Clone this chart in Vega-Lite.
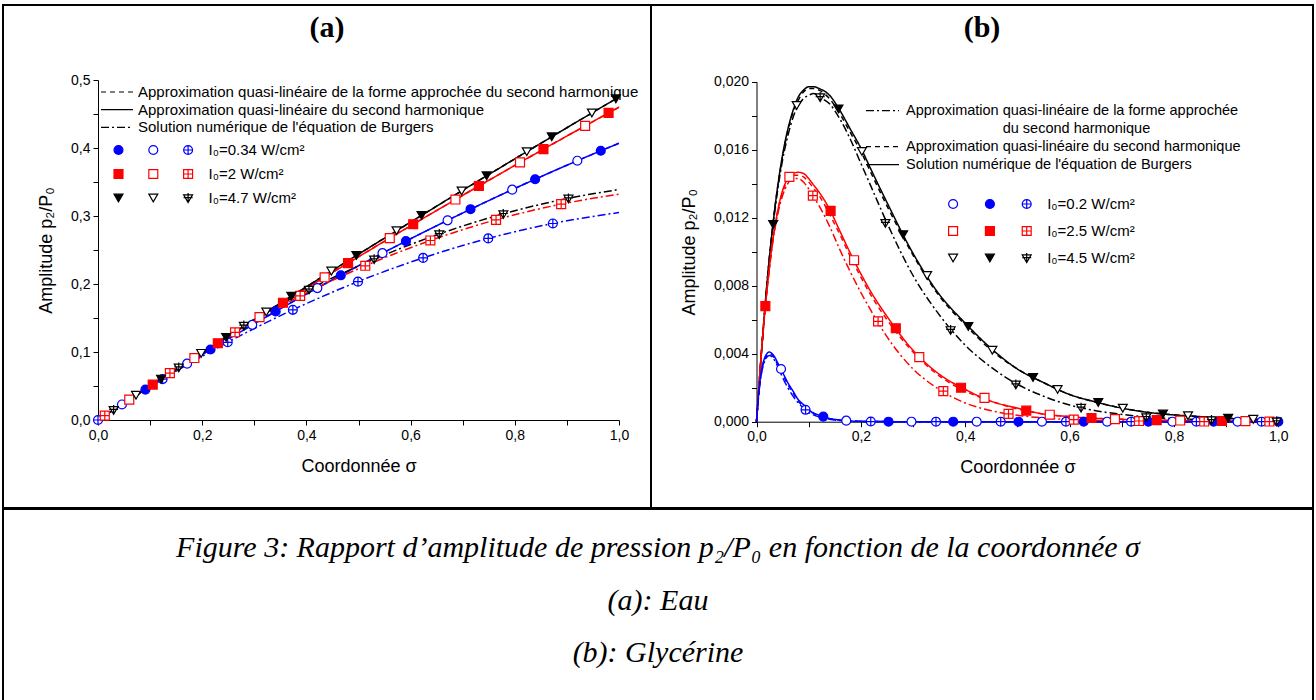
{
"$schema":"https://vega.github.io/schema/vega-lite/v6.json",
"padding":{"left":2,"top":4,"right":2,"bottom":0},
"spacing":-2,
"bounds":"full",
"config":{
 "background":"white",
 "view":{"stroke":"#000","strokeWidth":2},
 "axis":{"domainColor":"#000","domainWidth":1,"tickColor":"#000","tickWidth":1,"tickSize":5,"labelColor":"#000","titleColor":"#000","labelFont":"Liberation Sans","titleFont":"Liberation Sans","labelFontSize":14,"titleFontSize":18,"titleFontWeight":"normal","labelPadding":3,"titlePadding":15,"grid":false,"labelOverlap":false,"labelFlush":false,"labelBound":false},
 "legend":{"labelFont":"Liberation Sans","labelColor":"#000","padding":0,"titlePadding":0,"labelLimit":1000},
 "title":{"color":"#000"}
},
"datasets":{
"aLines":[
{"I":"B","s":"solid","x":0,"y":0},{"I":"B","s":"solid","x":0.1,"y":0.0491},{"I":"B","s":"solid","x":0.2,"y":0.0963},{"I":"B","s":"solid","x":0.3,"y":0.1416},{"I":"B","s":"solid","x":0.4,"y":0.1851},{"I":"B","s":"solid","x":0.5,"y":0.2268},{"I":"B","s":"solid","x":0.6,"y":0.2665},{"I":"B","s":"solid","x":0.7,"y":0.3044},{"I":"B","s":"solid","x":0.8,"y":0.3405},{"I":"B","s":"solid","x":0.9,"y":0.3747},{"I":"B","s":"solid","x":1,"y":0.407},
{"I":"B","s":"dash","x":0,"y":0},{"I":"B","s":"dash","x":0.1,"y":0.0491},{"I":"B","s":"dash","x":0.2,"y":0.0963},{"I":"B","s":"dash","x":0.3,"y":0.1416},{"I":"B","s":"dash","x":0.4,"y":0.1851},{"I":"B","s":"dash","x":0.5,"y":0.2268},{"I":"B","s":"dash","x":0.6,"y":0.2665},{"I":"B","s":"dash","x":0.7,"y":0.3044},{"I":"B","s":"dash","x":0.8,"y":0.3405},{"I":"B","s":"dash","x":0.9,"y":0.3747},{"I":"B","s":"dash","x":1,"y":0.407},
{"I":"B","s":"dd","x":0,"y":0},{"I":"B","s":"dd","x":0.1,"y":0.049},{"I":"B","s":"dd","x":0.2,"y":0.0938},{"I":"B","s":"dd","x":0.3,"y":0.1346},{"I":"B","s":"dd","x":0.4,"y":0.1712},{"I":"B","s":"dd","x":0.5,"y":0.2038},{"I":"B","s":"dd","x":0.6,"y":0.2322},{"I":"B","s":"dd","x":0.7,"y":0.2566},{"I":"B","s":"dd","x":0.8,"y":0.2768},{"I":"B","s":"dd","x":0.9,"y":0.293},{"I":"B","s":"dd","x":1,"y":0.305},
{"I":"R","s":"solid","x":0,"y":0},{"I":"R","s":"solid","x":0.1,"y":0.0496},{"I":"R","s":"solid","x":0.2,"y":0.0984},{"I":"R","s":"solid","x":0.3,"y":0.1464},{"I":"R","s":"solid","x":0.4,"y":0.1936},{"I":"R","s":"solid","x":0.5,"y":0.24},{"I":"R","s":"solid","x":0.6,"y":0.2856},{"I":"R","s":"solid","x":0.7,"y":0.3304},{"I":"R","s":"solid","x":0.8,"y":0.3744},{"I":"R","s":"solid","x":0.9,"y":0.4176},{"I":"R","s":"solid","x":1,"y":0.46},
{"I":"R","s":"dash","x":0,"y":0},{"I":"R","s":"dash","x":0.1,"y":0.0496},{"I":"R","s":"dash","x":0.2,"y":0.0984},{"I":"R","s":"dash","x":0.3,"y":0.1464},{"I":"R","s":"dash","x":0.4,"y":0.1936},{"I":"R","s":"dash","x":0.5,"y":0.24},{"I":"R","s":"dash","x":0.6,"y":0.2856},{"I":"R","s":"dash","x":0.7,"y":0.3304},{"I":"R","s":"dash","x":0.8,"y":0.3744},{"I":"R","s":"dash","x":0.9,"y":0.4176},{"I":"R","s":"dash","x":1,"y":0.46},
{"I":"R","s":"dd","x":0,"y":0},{"I":"R","s":"dd","x":0.1,"y":0.0503},{"I":"R","s":"dd","x":0.2,"y":0.0995},{"I":"R","s":"dd","x":0.3,"y":0.146},{"I":"R","s":"dd","x":0.4,"y":0.187},{"I":"R","s":"dd","x":0.5,"y":0.2225},{"I":"R","s":"dd","x":0.6,"y":0.2534},{"I":"R","s":"dd","x":0.7,"y":0.2799},{"I":"R","s":"dd","x":0.8,"y":0.3018},{"I":"R","s":"dd","x":0.9,"y":0.3191},{"I":"R","s":"dd","x":1,"y":0.332},
{"I":"K","s":"solid","x":0,"y":0},{"I":"K","s":"solid","x":0.1,"y":0.0498},{"I":"K","s":"solid","x":0.2,"y":0.099},{"I":"K","s":"solid","x":0.3,"y":0.1478},{"I":"K","s":"solid","x":0.4,"y":0.196},{"I":"K","s":"solid","x":0.5,"y":0.2438},{"I":"K","s":"solid","x":0.6,"y":0.291},{"I":"K","s":"solid","x":0.7,"y":0.3378},{"I":"K","s":"solid","x":0.8,"y":0.384},{"I":"K","s":"solid","x":0.9,"y":0.4298},{"I":"K","s":"solid","x":1,"y":0.475},
{"I":"K","s":"dash","x":0,"y":0},{"I":"K","s":"dash","x":0.1,"y":0.0498},{"I":"K","s":"dash","x":0.2,"y":0.099},{"I":"K","s":"dash","x":0.3,"y":0.1478},{"I":"K","s":"dash","x":0.4,"y":0.196},{"I":"K","s":"dash","x":0.5,"y":0.2438},{"I":"K","s":"dash","x":0.6,"y":0.291},{"I":"K","s":"dash","x":0.7,"y":0.3378},{"I":"K","s":"dash","x":0.8,"y":0.384},{"I":"K","s":"dash","x":0.9,"y":0.4298},{"I":"K","s":"dash","x":1,"y":0.475},
{"I":"K","s":"dd","x":0,"y":0},{"I":"K","s":"dd","x":0.1,"y":0.0505},{"I":"K","s":"dd","x":0.2,"y":0.1},{"I":"K","s":"dd","x":0.3,"y":0.148},{"I":"K","s":"dd","x":0.4,"y":0.1903},{"I":"K","s":"dd","x":0.5,"y":0.2265},{"I":"K","s":"dd","x":0.6,"y":0.2581},{"I":"K","s":"dd","x":0.7,"y":0.2852},{"I":"K","s":"dd","x":0.8,"y":0.3077},{"I":"K","s":"dd","x":0.9,"y":0.3256},{"I":"K","s":"dd","x":1,"y":0.339}
],
"aPts":[
{"m":"Bf","x":0.091,"y":0.0447},{"m":"Bf","x":0.216,"y":0.1037},{"m":"Bf","x":0.341,"y":0.1597},{"m":"Bf","x":0.466,"y":0.2128},{"m":"Bf","x":0.591,"y":0.263},{"m":"Bf","x":0.715,"y":0.31},{"m":"Bf","x":0.839,"y":0.354},{"m":"Bf","x":0.965,"y":0.3959},
{"m":"Bo","x":0.046,"y":0.0228},{"m":"Bo","x":0.171,"y":0.0828},{"m":"Bo","x":0.296,"y":0.1399},{"m":"Bo","x":0.421,"y":0.194},{"m":"Bo","x":0.546,"y":0.2453},{"m":"Bo","x":0.671,"y":0.2936},{"m":"Bo","x":0.795,"y":0.3387},{"m":"Bo","x":0.92,"y":0.3813},
{"m":"Bx","x":0,"y":0},{"m":"Bx","x":0.124,"y":0.0601},{"m":"Bx","x":0.249,"y":0.1143},{"m":"Bx","x":0.374,"y":0.162},{"m":"Bx","x":0.499,"y":0.2034},{"m":"Bx","x":0.624,"y":0.2384},{"m":"Bx","x":0.749,"y":0.267},{"m":"Bx","x":0.873,"y":0.289},
{"m":"Rf","x":0.105,"y":0.0521},{"m":"Rf","x":0.23,"y":0.1129},{"m":"Rf","x":0.355,"y":0.1725},{"m":"Rf","x":0.48,"y":0.2308},{"m":"Rf","x":0.605,"y":0.2879},{"m":"Rf","x":0.731,"y":0.3441},{"m":"Rf","x":0.855,"y":0.3983},{"m":"Rf","x":0.98,"y":0.4516},
{"m":"Ro","x":0.06,"y":0.0299},{"m":"Ro","x":0.185,"y":0.0911},{"m":"Ro","x":0.31,"y":0.1512},{"m":"Ro","x":0.435,"y":0.2099},{"m":"Ro","x":0.56,"y":0.2675},{"m":"Ro","x":0.686,"y":0.3242},{"m":"Ro","x":0.81,"y":0.3788},{"m":"Ro","x":0.935,"y":0.4325},
{"m":"Rx","x":0.013,"y":0.0065},{"m":"Rx","x":0.138,"y":0.069},{"m":"Rx","x":0.263,"y":0.129},{"m":"Rx","x":0.388,"y":0.1825},{"m":"Rx","x":0.513,"y":0.2268},{"m":"Rx","x":0.638,"y":0.264},{"m":"Rx","x":0.764,"y":0.2944},{"m":"Rx","x":0.889,"y":0.3175},
{"m":"Kf","x":0.121,"y":0.0601},{"m":"Kf","x":0.246,"y":0.1215},{"m":"Kf","x":0.371,"y":0.1821},{"m":"Kf","x":0.496,"y":0.2419},{"m":"Kf","x":0.621,"y":0.3009},{"m":"Kf","x":0.746,"y":0.3591},{"m":"Kf","x":0.871,"y":0.4165},{"m":"Kf","x":0.994,"y":0.4723},
{"m":"Ko","x":0.073,"y":0.0364},{"m":"Ko","x":0.198,"y":0.098},{"m":"Ko","x":0.323,"y":0.1589},{"m":"Ko","x":0.448,"y":0.219},{"m":"Ko","x":0.573,"y":0.2783},{"m":"Ko","x":0.698,"y":0.3368},{"m":"Ko","x":0.823,"y":0.3946},{"m":"Ko","x":0.948,"y":0.4515},
{"m":"Kx","x":0.03,"y":0.015},{"m":"Kx","x":0.155,"y":0.0775},{"m":"Kx","x":0.28,"y":0.139},{"m":"Kx","x":0.405,"y":0.192},{"m":"Kx","x":0.53,"y":0.2365},{"m":"Kx","x":0.655,"y":0.2735},{"m":"Kx","x":0.778,"y":0.303},{"m":"Kx","x":0.903,"y":0.326}
],
"bLines":[
{"I":"K","s":"solid","x":0,"y":0},{"I":"K","s":"solid","x":0.01,"y":0.0043},{"I":"K","s":"solid","x":0.02,"y":0.0081},{"I":"K","s":"solid","x":0.03,"y":0.0112},{"I":"K","s":"solid","x":0.04,"y":0.0137},{"I":"K","s":"solid","x":0.05,"y":0.0157},{"I":"K","s":"solid","x":0.06,"y":0.0172},{"I":"K","s":"solid","x":0.07,"y":0.0183},{"I":"K","s":"solid","x":0.08,"y":0.0191},{"I":"K","s":"solid","x":0.09,"y":0.0195},{"I":"K","s":"solid","x":0.1,"y":0.0197},{"I":"K","s":"solid","x":0.11,"y":0.0197},{"I":"K","s":"solid","x":0.12,"y":0.0196},{"I":"K","s":"solid","x":0.14,"y":0.0192},{"I":"K","s":"solid","x":0.16,"y":0.0183},{"I":"K","s":"solid","x":0.18,"y":0.0172},{"I":"K","s":"solid","x":0.2,"y":0.0161},{"I":"K","s":"solid","x":0.22,"y":0.0148},{"I":"K","s":"solid","x":0.25,"y":0.0129},{"I":"K","s":"solid","x":0.3,"y":0.0099},{"I":"K","s":"solid","x":0.35,"y":0.0075},{"I":"K","s":"solid","x":0.4,"y":0.0058},{"I":"K","s":"solid","x":0.45,"y":0.0043},{"I":"K","s":"solid","x":0.5,"y":0.0031},{"I":"K","s":"solid","x":0.55,"y":0.0023},{"I":"K","s":"solid","x":0.6,"y":0.0016},{"I":"K","s":"solid","x":0.65,"y":0.00116},{"I":"K","s":"solid","x":0.7,"y":0.0008},{"I":"K","s":"solid","x":0.75,"y":0.00055},{"I":"K","s":"solid","x":0.8,"y":0.0004},{"I":"K","s":"solid","x":0.85,"y":0.0003},{"I":"K","s":"solid","x":0.9,"y":0.0002},{"I":"K","s":"solid","x":0.95,"y":0.00014},{"I":"K","s":"solid","x":1,"y":0.0001},
{"I":"K","s":"dash","x":0,"y":0},{"I":"K","s":"dash","x":0.01,"y":0.0043},{"I":"K","s":"dash","x":0.02,"y":0.0081},{"I":"K","s":"dash","x":0.03,"y":0.0112},{"I":"K","s":"dash","x":0.04,"y":0.0137},{"I":"K","s":"dash","x":0.05,"y":0.0156},{"I":"K","s":"dash","x":0.06,"y":0.0171},{"I":"K","s":"dash","x":0.07,"y":0.0182},{"I":"K","s":"dash","x":0.08,"y":0.0189},{"I":"K","s":"dash","x":0.09,"y":0.0194},{"I":"K","s":"dash","x":0.1,"y":0.0196},{"I":"K","s":"dash","x":0.11,"y":0.0196},{"I":"K","s":"dash","x":0.12,"y":0.0195},{"I":"K","s":"dash","x":0.14,"y":0.019},{"I":"K","s":"dash","x":0.16,"y":0.0181},{"I":"K","s":"dash","x":0.18,"y":0.017},{"I":"K","s":"dash","x":0.2,"y":0.0159},{"I":"K","s":"dash","x":0.22,"y":0.0146},{"I":"K","s":"dash","x":0.25,"y":0.0127},{"I":"K","s":"dash","x":0.3,"y":0.0098},{"I":"K","s":"dash","x":0.35,"y":0.0074},{"I":"K","s":"dash","x":0.4,"y":0.0057},{"I":"K","s":"dash","x":0.45,"y":0.0042},{"I":"K","s":"dash","x":0.5,"y":0.0031},{"I":"K","s":"dash","x":0.55,"y":0.0023},{"I":"K","s":"dash","x":0.6,"y":0.0016},{"I":"K","s":"dash","x":0.65,"y":0.00115},{"I":"K","s":"dash","x":0.7,"y":0.0008},{"I":"K","s":"dash","x":0.75,"y":0.00055},{"I":"K","s":"dash","x":0.8,"y":0.0004},{"I":"K","s":"dash","x":0.85,"y":0.0003},{"I":"K","s":"dash","x":0.9,"y":0.0002},{"I":"K","s":"dash","x":0.95,"y":0.00014},{"I":"K","s":"dash","x":1,"y":0.0001},
{"I":"K","s":"dd","x":0,"y":0},{"I":"K","s":"dd","x":0.01,"y":0.0043},{"I":"K","s":"dd","x":0.02,"y":0.0081},{"I":"K","s":"dd","x":0.03,"y":0.0111},{"I":"K","s":"dd","x":0.04,"y":0.0135},{"I":"K","s":"dd","x":0.05,"y":0.0154},{"I":"K","s":"dd","x":0.06,"y":0.0168},{"I":"K","s":"dd","x":0.07,"y":0.0179},{"I":"K","s":"dd","x":0.08,"y":0.0186},{"I":"K","s":"dd","x":0.09,"y":0.019},{"I":"K","s":"dd","x":0.1,"y":0.0192},{"I":"K","s":"dd","x":0.11,"y":0.0193},{"I":"K","s":"dd","x":0.12,"y":0.0191},{"I":"K","s":"dd","x":0.14,"y":0.0187},{"I":"K","s":"dd","x":0.16,"y":0.0178},{"I":"K","s":"dd","x":0.18,"y":0.0166},{"I":"K","s":"dd","x":0.2,"y":0.0152},{"I":"K","s":"dd","x":0.22,"y":0.0138},{"I":"K","s":"dd","x":0.25,"y":0.0117},{"I":"K","s":"dd","x":0.3,"y":0.0086},{"I":"K","s":"dd","x":0.35,"y":0.0063},{"I":"K","s":"dd","x":0.4,"y":0.0045},{"I":"K","s":"dd","x":0.45,"y":0.0032},{"I":"K","s":"dd","x":0.5,"y":0.0022},{"I":"K","s":"dd","x":0.55,"y":0.0015},{"I":"K","s":"dd","x":0.6,"y":0.00098},{"I":"K","s":"dd","x":0.65,"y":0.00065},{"I":"K","s":"dd","x":0.7,"y":0.00043},{"I":"K","s":"dd","x":0.75,"y":0.00027},{"I":"K","s":"dd","x":0.8,"y":0.00018},{"I":"K","s":"dd","x":0.85,"y":0.00012},{"I":"K","s":"dd","x":0.9,"y":0.00008},{"I":"K","s":"dd","x":0.95,"y":0.00005},{"I":"K","s":"dd","x":1,"y":0.00003},
{"I":"R","s":"solid","x":0,"y":0},{"I":"R","s":"solid","x":0.01,"y":0.0043},{"I":"R","s":"solid","x":0.02,"y":0.0077},{"I":"R","s":"solid","x":0.03,"y":0.0104},{"I":"R","s":"solid","x":0.04,"y":0.0123},{"I":"R","s":"solid","x":0.05,"y":0.0136},{"I":"R","s":"solid","x":0.06,"y":0.0143},{"I":"R","s":"solid","x":0.07,"y":0.0146},{"I":"R","s":"solid","x":0.08,"y":0.01467},{"I":"R","s":"solid","x":0.09,"y":0.0146},{"I":"R","s":"solid","x":0.1,"y":0.0143},{"I":"R","s":"solid","x":0.11,"y":0.0139},{"I":"R","s":"solid","x":0.12,"y":0.0135},{"I":"R","s":"solid","x":0.14,"y":0.0125},{"I":"R","s":"solid","x":0.16,"y":0.0112},{"I":"R","s":"solid","x":0.18,"y":0.0099},{"I":"R","s":"solid","x":0.2,"y":0.0087},{"I":"R","s":"solid","x":0.22,"y":0.0076},{"I":"R","s":"solid","x":0.25,"y":0.0062},{"I":"R","s":"solid","x":0.3,"y":0.0042},{"I":"R","s":"solid","x":0.35,"y":0.0028},{"I":"R","s":"solid","x":0.4,"y":0.0019},{"I":"R","s":"solid","x":0.45,"y":0.0012},{"I":"R","s":"solid","x":0.5,"y":0.0008},{"I":"R","s":"solid","x":0.55,"y":0.00045},{"I":"R","s":"solid","x":0.6,"y":0.0003},{"I":"R","s":"solid","x":0.65,"y":0.0002},{"I":"R","s":"solid","x":0.7,"y":0.00014},{"I":"R","s":"solid","x":0.75,"y":0.0001},{"I":"R","s":"solid","x":0.8,"y":0.00007},{"I":"R","s":"solid","x":0.85,"y":0.00005},{"I":"R","s":"solid","x":0.9,"y":0.00004},{"I":"R","s":"solid","x":0.95,"y":0.00003},{"I":"R","s":"solid","x":1,"y":0.00002},
{"I":"R","s":"dash","x":0,"y":0},{"I":"R","s":"dash","x":0.01,"y":0.0043},{"I":"R","s":"dash","x":0.02,"y":0.0077},{"I":"R","s":"dash","x":0.03,"y":0.0104},{"I":"R","s":"dash","x":0.04,"y":0.0123},{"I":"R","s":"dash","x":0.05,"y":0.0135},{"I":"R","s":"dash","x":0.06,"y":0.0142},{"I":"R","s":"dash","x":0.07,"y":0.0145},{"I":"R","s":"dash","x":0.08,"y":0.0145},{"I":"R","s":"dash","x":0.09,"y":0.0144},{"I":"R","s":"dash","x":0.1,"y":0.0141},{"I":"R","s":"dash","x":0.11,"y":0.0137},{"I":"R","s":"dash","x":0.12,"y":0.0133},{"I":"R","s":"dash","x":0.14,"y":0.0122},{"I":"R","s":"dash","x":0.16,"y":0.011},{"I":"R","s":"dash","x":0.18,"y":0.0097},{"I":"R","s":"dash","x":0.2,"y":0.0085},{"I":"R","s":"dash","x":0.22,"y":0.0074},{"I":"R","s":"dash","x":0.25,"y":0.006},{"I":"R","s":"dash","x":0.3,"y":0.0041},{"I":"R","s":"dash","x":0.35,"y":0.0027},{"I":"R","s":"dash","x":0.4,"y":0.0018},{"I":"R","s":"dash","x":0.45,"y":0.0012},{"I":"R","s":"dash","x":0.5,"y":0.00075},{"I":"R","s":"dash","x":0.55,"y":0.00045},{"I":"R","s":"dash","x":0.6,"y":0.0003},{"I":"R","s":"dash","x":0.65,"y":0.0002},{"I":"R","s":"dash","x":0.7,"y":0.00014},{"I":"R","s":"dash","x":0.75,"y":0.0001},{"I":"R","s":"dash","x":0.8,"y":0.00007},{"I":"R","s":"dash","x":0.85,"y":0.00005},{"I":"R","s":"dash","x":0.9,"y":0.00004},{"I":"R","s":"dash","x":0.95,"y":0.00003},{"I":"R","s":"dash","x":1,"y":0.00002},
{"I":"R","s":"dd","x":0,"y":0},{"I":"R","s":"dd","x":0.01,"y":0.0043},{"I":"R","s":"dd","x":0.02,"y":0.0077},{"I":"R","s":"dd","x":0.03,"y":0.0103},{"I":"R","s":"dd","x":0.04,"y":0.0121},{"I":"R","s":"dd","x":0.05,"y":0.0133},{"I":"R","s":"dd","x":0.06,"y":0.014},{"I":"R","s":"dd","x":0.07,"y":0.0143},{"I":"R","s":"dd","x":0.08,"y":0.0143},{"I":"R","s":"dd","x":0.09,"y":0.0141},{"I":"R","s":"dd","x":0.1,"y":0.0137},{"I":"R","s":"dd","x":0.11,"y":0.0132},{"I":"R","s":"dd","x":0.12,"y":0.0127},{"I":"R","s":"dd","x":0.14,"y":0.0115},{"I":"R","s":"dd","x":0.16,"y":0.0101},{"I":"R","s":"dd","x":0.18,"y":0.0088},{"I":"R","s":"dd","x":0.2,"y":0.0076},{"I":"R","s":"dd","x":0.22,"y":0.0065},{"I":"R","s":"dd","x":0.25,"y":0.005},{"I":"R","s":"dd","x":0.3,"y":0.0031},{"I":"R","s":"dd","x":0.35,"y":0.0019},{"I":"R","s":"dd","x":0.4,"y":0.0011},{"I":"R","s":"dd","x":0.45,"y":0.00065},{"I":"R","s":"dd","x":0.5,"y":0.00038},{"I":"R","s":"dd","x":0.55,"y":0.00022},{"I":"R","s":"dd","x":0.6,"y":0.00013},{"I":"R","s":"dd","x":0.65,"y":0.00008},{"I":"R","s":"dd","x":0.7,"y":0.00005},{"I":"R","s":"dd","x":0.75,"y":0.00003},{"I":"R","s":"dd","x":0.8,"y":0.00002},{"I":"R","s":"dd","x":0.85,"y":0.00001},{"I":"R","s":"dd","x":0.9,"y":0.00001},{"I":"R","s":"dd","x":0.95,"y":0.00001},{"I":"R","s":"dd","x":1,"y":0.00001},
{"I":"B","s":"solid","x":0,"y":0},{"I":"B","s":"solid","x":0.005,"y":0.0019},{"I":"B","s":"solid","x":0.01,"y":0.0031},{"I":"B","s":"solid","x":0.015,"y":0.0037},{"I":"B","s":"solid","x":0.02,"y":0.004},{"I":"B","s":"solid","x":0.025,"y":0.0041},{"I":"B","s":"solid","x":0.03,"y":0.004},{"I":"B","s":"solid","x":0.035,"y":0.0038},{"I":"B","s":"solid","x":0.04,"y":0.0035},{"I":"B","s":"solid","x":0.05,"y":0.0029},{"I":"B","s":"solid","x":0.06,"y":0.0023},{"I":"B","s":"solid","x":0.07,"y":0.0018},{"I":"B","s":"solid","x":0.08,"y":0.0013},{"I":"B","s":"solid","x":0.09,"y":0.001},{"I":"B","s":"solid","x":0.1,"y":0.0007},{"I":"B","s":"solid","x":0.12,"y":0.00038},{"I":"B","s":"solid","x":0.14,"y":0.00019},{"I":"B","s":"solid","x":0.16,"y":0.0001},{"I":"B","s":"solid","x":0.2,"y":0.00002},{"I":"B","s":"solid","x":0.3,"y":0},{"I":"B","s":"solid","x":0.5,"y":0},{"I":"B","s":"solid","x":0.7,"y":0},{"I":"B","s":"solid","x":1,"y":0},
{"I":"B","s":"dash","x":0,"y":0},{"I":"B","s":"dash","x":0.005,"y":0.0018},{"I":"B","s":"dash","x":0.01,"y":0.003},{"I":"B","s":"dash","x":0.015,"y":0.0036},{"I":"B","s":"dash","x":0.02,"y":0.0039},{"I":"B","s":"dash","x":0.025,"y":0.004},{"I":"B","s":"dash","x":0.03,"y":0.0039},{"I":"B","s":"dash","x":0.035,"y":0.0037},{"I":"B","s":"dash","x":0.04,"y":0.0034},{"I":"B","s":"dash","x":0.05,"y":0.0028},{"I":"B","s":"dash","x":0.06,"y":0.0022},{"I":"B","s":"dash","x":0.07,"y":0.0017},{"I":"B","s":"dash","x":0.08,"y":0.0012},{"I":"B","s":"dash","x":0.09,"y":0.0009},{"I":"B","s":"dash","x":0.1,"y":0.00065},{"I":"B","s":"dash","x":0.12,"y":0.00035},{"I":"B","s":"dash","x":0.14,"y":0.00017},{"I":"B","s":"dash","x":0.16,"y":0.00009},{"I":"B","s":"dash","x":0.2,"y":0.00002},{"I":"B","s":"dash","x":0.3,"y":0},{"I":"B","s":"dash","x":0.5,"y":0},{"I":"B","s":"dash","x":0.7,"y":0},{"I":"B","s":"dash","x":1,"y":0},
{"I":"B","s":"dd","x":0,"y":0},{"I":"B","s":"dd","x":0.005,"y":0.0018},{"I":"B","s":"dd","x":0.01,"y":0.0029},{"I":"B","s":"dd","x":0.015,"y":0.0035},{"I":"B","s":"dd","x":0.02,"y":0.0038},{"I":"B","s":"dd","x":0.025,"y":0.0039},{"I":"B","s":"dd","x":0.03,"y":0.0038},{"I":"B","s":"dd","x":0.035,"y":0.0036},{"I":"B","s":"dd","x":0.04,"y":0.0033},{"I":"B","s":"dd","x":0.05,"y":0.0026},{"I":"B","s":"dd","x":0.06,"y":0.002},{"I":"B","s":"dd","x":0.07,"y":0.0015},{"I":"B","s":"dd","x":0.08,"y":0.0011},{"I":"B","s":"dd","x":0.09,"y":0.0008},{"I":"B","s":"dd","x":0.1,"y":0.00055},{"I":"B","s":"dd","x":0.12,"y":0.00028},{"I":"B","s":"dd","x":0.14,"y":0.00014},{"I":"B","s":"dd","x":0.16,"y":0.00007},{"I":"B","s":"dd","x":0.2,"y":0.00002},{"I":"B","s":"dd","x":0.3,"y":0},{"I":"B","s":"dd","x":0.5,"y":0},{"I":"B","s":"dd","x":0.7,"y":0},{"I":"B","s":"dd","x":1,"y":0}
],
"bPts":[
{"m":"Bo","x":0.047,"y":0.0031},{"m":"Bo","x":0.172,"y":0.00006},{"m":"Bo","x":0.297,"y":0},{"m":"Bo","x":0.422,"y":0},{"m":"Bo","x":0.547,"y":0},{"m":"Bo","x":0.672,"y":0},{"m":"Bo","x":0.797,"y":0},{"m":"Bo","x":0.922,"y":0},
{"m":"Bf","x":0.128,"y":0.0003},{"m":"Bf","x":0.253,"y":0},{"m":"Bf","x":0.377,"y":0},{"m":"Bf","x":0.502,"y":0},{"m":"Bf","x":0.627,"y":0},{"m":"Bf","x":0.751,"y":0},{"m":"Bf","x":0.876,"y":0},{"m":"Bf","x":1,"y":0},
{"m":"Bx","x":0.094,"y":0.0007},{"m":"Bx","x":0.219,"y":0.00001},{"m":"Bx","x":0.344,"y":0},{"m":"Bx","x":0.468,"y":0},{"m":"Bx","x":0.593,"y":0},{"m":"Bx","x":0.718,"y":0},{"m":"Bx","x":0.843,"y":0},{"m":"Bx","x":0.968,"y":0},
{"m":"Ro","x":0.063,"y":0.0144},{"m":"Ro","x":0.187,"y":0.0095},{"m":"Ro","x":0.312,"y":0.0038},{"m":"Ro","x":0.437,"y":0.0014},{"m":"Ro","x":0.562,"y":0.00041},{"m":"Ro","x":0.687,"y":0.00015},{"m":"Ro","x":0.812,"y":0.00007},{"m":"Ro","x":0.937,"y":0.00003},
{"m":"Rf","x":0.017,"y":0.0068},{"m":"Rf","x":0.142,"y":0.0124},{"m":"Rf","x":0.267,"y":0.0055},{"m":"Rf","x":0.392,"y":0.002},{"m":"Rf","x":0.517,"y":0.00065},{"m":"Rf","x":0.642,"y":0.00022},{"m":"Rf","x":0.767,"y":0.00009},{"m":"Rf","x":0.892,"y":0.00004},
{"m":"Rx","x":0.108,"y":0.0133},{"m":"Rx","x":0.233,"y":0.0059},{"m":"Rx","x":0.358,"y":0.0018},{"m":"Rx","x":0.483,"y":0.00046},{"m":"Rx","x":0.608,"y":0.00012},{"m":"Rx","x":0.733,"y":0.00004},{"m":"Rx","x":0.858,"y":0.00001},{"m":"Rx","x":0.983,"y":0.00001},
{"m":"Ko","x":0.077,"y":0.0186},{"m":"Ko","x":0.202,"y":0.0159},{"m":"Ko","x":0.327,"y":0.0086},{"m":"Ko","x":0.452,"y":0.0042},{"m":"Ko","x":0.577,"y":0.0019},{"m":"Ko","x":0.702,"y":0.00079},{"m":"Ko","x":0.827,"y":0.00035},{"m":"Ko","x":0.952,"y":0.00014},
{"m":"Kf","x":0.032,"y":0.0116},{"m":"Kf","x":0.157,"y":0.0184},{"m":"Kf","x":0.281,"y":0.011},{"m":"Kf","x":0.406,"y":0.0056},{"m":"Kf","x":0.53,"y":0.0026},{"m":"Kf","x":0.655,"y":0.00113},{"m":"Kf","x":0.779,"y":0.00045},{"m":"Kf","x":0.904,"y":0.0002},
{"m":"Kx","x":0.122,"y":0.0191},{"m":"Kx","x":0.247,"y":0.0117},{"m":"Kx","x":0.372,"y":0.0054},{"m":"Kx","x":0.497,"y":0.0022},{"m":"Kx","x":0.622,"y":0.00083},{"m":"Kx","x":0.747,"y":0.00028},{"m":"Kx","x":0.872,"y":0.0001},{"m":"Kx","x":0.997,"y":0.00003}
],
"caption":[
{"line":0,"t":"Figure 3: Rapport d’amplitude de pression p₂/P₀ en fonction de la coordonnée σ"},
{"line":1,"t":"(a): Eau"},
{"line":2,"t":"(b): Glycérine"}
]
},
"vconcat":[
{"hconcat":[
 {
  "width":648,"height":503,
  "title":{"text":"(a)","font":"Liberation Serif","fontSize":30,"fontWeight":"bold","color":"#000","anchor":"middle","frame":"group","baseline":"middle","offset":-53},
  "encoding":{
   "x":{"field":"x","type":"quantitative","scale":{"domain":[0,1],"range":[95,616],"nice":false,"zero":false},
        "axis":{"offset":-88,"values":[0,0.1,0.2,0.3,0.4,0.5,0.6,0.7,0.8,0.9,1],"labelExpr":"round(datum.value*10)%2==0 ? replace(format(datum.value,'.1f'),'.',',') : ''","title":"Coordonnée σ"}},
   "y":{"field":"y","type":"quantitative","scale":{"domain":[0,0.5],"range":[415,75],"nice":false,"zero":false},
        "axis":{"offset":-95,"values":[0,0.05,0.1,0.15,0.2,0.25,0.3,0.35,0.4,0.45,0.5],"labelExpr":"round(datum.value*100)%10==0 ? replace(format(datum.value,'.1f'),'.',',') : ''","title":"Amplitude p₂/P₀"}}
  },
  "layer":[
   {"data":{"name":"aLines"},
    "mark":{"type":"line","strokeWidth":1.5,"interpolate":"monotone"},
    "encoding":{
     "color":{"field":"I","type":"nominal","scale":{"domain":["B","R","K"],"range":["#0000ff","#ff0000","#000000"]},"legend":null},
     "strokeDash":{"field":"s","type":"nominal","scale":{"domain":["dash","solid","dd"],"range":[[5,4],[1,0],[8,3,2,3]]},
       "legend":{"title":null,"orient":"none","legendX":97,"legendY":79,"symbolType":"stroke","symbolSize":1024,"symbolStrokeWidth":1.2,"symbolStrokeColor":"#000","clipHeight":16,"rowPadding":1.7,"labelOffset":4,"labelFontSize":15,"labelLimit":1000,
         "labelExpr":"datum.value=='dash' ? 'Approximation quasi-linéaire de la forme approchée du second harmonique' : datum.value=='solid' ? 'Approximation quasi-linéaire du second harmonique' : \"Solution numérique de l'équation de Burgers\""}}
    }},
   {"data":{"name":"aPts"},
    "mark":{"type":"point","filled":true,"size":80,"strokeWidth":1.2,"opacity":1},
    "encoding":{
     "shape":{"field":"m","type":"nominal","scale":{"domain":["Bf","Rf","Kf","Bo","Ro","Ko","Bx","Rx","Kx"],
        "range":["circle","square","triangle-down","circle","square","triangle-down","M-1,0A1,1,0,1,1,1,0A1,1,0,1,1,-1,0ZM-1,0L1,0M0,-1L0,1","M-1,-1L1,-1L1,1L-1,1ZM-1,0L1,0M0,-1L0,1","M-1,-0.7L1,-0.7L0,1ZM-1,-0.1L1,-0.1M0,-1.1L0,1"]},
        "legend":{"title":null,"orient":"none","legendX":108,"legendY":137,"columns":3,"columnPadding":6.8,"rowPadding":8,"clipHeight":16,"labelOffset":13,"labelFontSize":15,"labelLimit":1000,"symbolSize":80,"symbolStrokeWidth":1.2,
          "labelExpr":"datum.value=='Bx' ? 'I₀=0.34 W/cm²' : datum.value=='Rx' ? 'I₀=2 W/cm²' : datum.value=='Kx' ? 'I₀=4.7 W/cm²' : ''"}},
     "fill":{"field":"m","type":"nominal","scale":{"domain":["Bf","Rf","Kf","Bo","Ro","Ko","Bx","Rx","Kx"],"range":["#0000ff","#ff0000","#000000","#ffffff","#ffffff","#ffffff","#ffffff","#ffffff","#ffffff"]}},
     "stroke":{"field":"m","type":"nominal","scale":{"domain":["Bf","Rf","Kf","Bo","Ro","Ko","Bx","Rx","Kx"],"range":["#0000ff","#ff0000","#000000","#0000ff","#ff0000","#000000","#0000ff","#ff0000","#000000"]}}
    }}
  ]
 },
 {
  "width":662,"height":503,
  "title":{"text":"(b)","font":"Liberation Serif","fontSize":30,"fontWeight":"bold","color":"#000","anchor":"middle","frame":"group","baseline":"middle","offset":-53},
  "encoding":{
   "x":{"field":"x","type":"quantitative","scale":{"domain":[0,1],"range":[105.5,627.3],"nice":false,"zero":false},
        "axis":{"offset":-86.3,"values":[0,0.1,0.2,0.3,0.4,0.5,0.6,0.7,0.8,0.9,1],"labelExpr":"round(datum.value*10)%2==0 ? replace(format(datum.value,'.1f'),'.',',') : ''","title":"Coordonnée σ"}},
   "y":{"field":"y","type":"quantitative","scale":{"domain":[0,0.02],"range":[416.7,76.7],"nice":false,"zero":false},
        "axis":{"offset":-105.5,"values":[0,0.002,0.004,0.006,0.008,0.01,0.012,0.014,0.016,0.018,0.02],"labelExpr":"round(datum.value*1000)%4==0 ? replace(format(datum.value,'.3f'),'.',',') : ''","title":"Amplitude p₂/P₀"}}
  },
  "layer":[
   {"data":{"name":"bLines"},
    "mark":{"type":"line","strokeWidth":1.5,"interpolate":"monotone"},
    "encoding":{
     "color":{"field":"I","type":"nominal","scale":{"domain":["B","R","K"],"range":["#0000ff","#ff0000","#000000"]},"legend":null},
     "strokeDash":{"field":"s","type":"nominal","scale":{"domain":["dd","sp","dash","solid"],"range":[[8,3,2,3],[0,1000],[5,4],[1,0]]},
       "legend":{"title":null,"orient":"none","legendX":214,"legendY":97.7,"symbolType":"stroke","symbolSize":1089,"symbolStrokeWidth":1.2,"symbolStrokeColor":"#000","clipHeight":16,"rowPadding":2,"labelOffset":6,"labelFontSize":14.5,"labelLimit":1000,
         "labelExpr":"datum.value=='dd' ? 'Approximation quasi-linéaire de la forme approchée' : datum.value=='sp' ? '\u200b\u00a0\u00a0\u00a0\u00a0\u00a0\u00a0\u00a0\u00a0\u00a0\u00a0\u00a0\u00a0\u00a0\u00a0\u00a0\u00a0\u00a0\u00a0\u00a0\u00a0\u00a0\u00a0\u00a0\u00a0du second harmonique' : datum.value=='dash' ? 'Approximation quasi-linéaire du second harmonique' : \"Solution numérique de l'équation de Burgers\""}}
    }},
   {"data":{"name":"bPts"},
    "mark":{"type":"point","filled":true,"size":80,"strokeWidth":1.2,"opacity":1},
    "encoding":{
     "shape":{"field":"m","type":"nominal","scale":{"domain":["Bo","Ro","Ko","Bf","Rf","Kf","Bx","Rx","Kx"],
        "range":["circle","square","triangle-down","circle","square","triangle-down","M-1,0A1,1,0,1,1,1,0A1,1,0,1,1,-1,0ZM-1,0L1,0M0,-1L0,1","M-1,-1L1,-1L1,1L-1,1ZM-1,0L1,0M0,-1L0,1","M-1,-0.7L1,-0.7L0,1ZM-1,-0.1L1,-0.1M0,-1.1L0,1"]},
        "legend":{"title":null,"orient":"none","legendX":294.6,"legendY":191,"columns":3,"columnPadding":8.8,"rowPadding":11,"clipHeight":16,"labelOffset":13,"labelFontSize":15,"labelLimit":1000,"symbolSize":80,"symbolStrokeWidth":1.2,
          "labelExpr":"datum.value=='Bx' ? 'I₀=0.2 W/cm²' : datum.value=='Rx' ? 'I₀=2.5 W/cm²' : datum.value=='Kx' ? 'I₀=4.5 W/cm²' : ''"}},
     "fill":{"field":"m","type":"nominal","scale":{"domain":["Bo","Ro","Ko","Bf","Rf","Kf","Bx","Rx","Kx"],"range":["#ffffff","#ffffff","#ffffff","#0000ff","#ff0000","#000000","#ffffff","#ffffff","#ffffff"]}},
     "stroke":{"field":"m","type":"nominal","scale":{"domain":["Bo","Ro","Ko","Bf","Rf","Kf","Bx","Rx","Kx"],"range":["#0000ff","#ff0000","#000000","#0000ff","#ff0000","#000000","#0000ff","#ff0000","#000000"]}}
    }}
  ]
 }
],"spacing":0,"bounds":"flush",
 "resolve":{"scale":{"color":"independent","strokeDash":"independent","shape":"independent","fill":"independent","stroke":"independent"}}},
{
 "width":1310,"height":195,
 "data":{"name":"caption"},
 "mark":{"type":"text","font":"Liberation Serif","fontStyle":"italic","fontSize":30,"color":"#000","baseline":"alphabetic","align":"center"},
 "encoding":{
  "y":{"field":"line","type":"quantitative","scale":{"domain":[0,2],"range":[48,153]},"axis":null},
  "text":{"field":"t","type":"nominal"}
 }
}
]
}
